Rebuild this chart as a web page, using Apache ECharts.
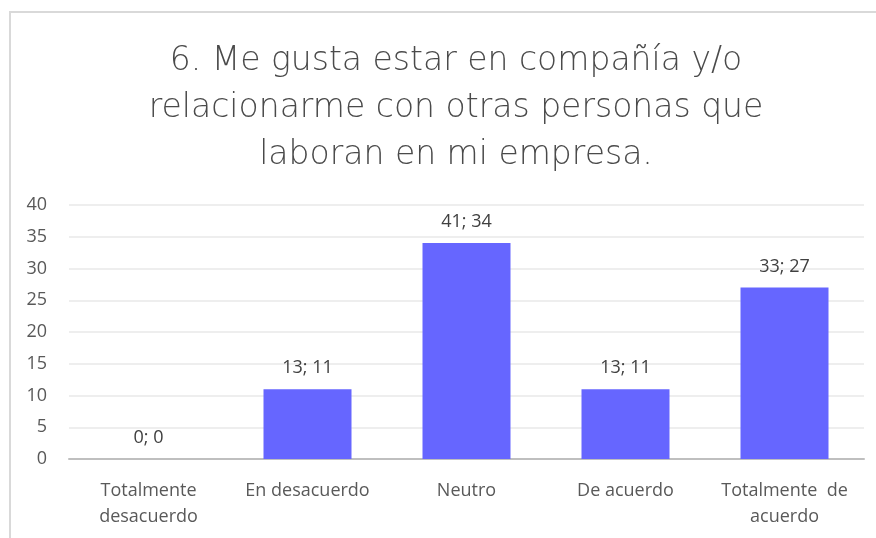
<!DOCTYPE html>
<html>
<head>
<meta charset="utf-8">
<script src="https://cdn.jsdelivr.net/npm/echarts@6/dist/echarts.min.js"></script>
<style>
  html, body { margin: 0; padding: 0; background: #fff; }
  #frame { position: absolute; left: 9px; top: 11px; width: 880px; height: 540px; border: 2px solid #d9d9d9; box-sizing: border-box; }
  #chart { position: absolute; left: 0; top: 0; width: 876px; height: 538px; }
</style>
</head>
<body>
<div id="frame"></div>
<div id="chart"></div>
<script>
var categories = ['Totalmente\ndesacuerdo', 'En desacuerdo', 'Neutro', 'De acuerdo', 'Totalmente  de\nacuerdo'];
var counts = [0, 13, 41, 13, 33];
var percents = [0, 11, 34, 11, 27];
var yTicks = [0, 5, 10, 15, 20, 25, 30, 35, 40];

var myChart = echarts.init(document.getElementById('chart'));
var font = '"Open Sans", "Noto Sans", sans-serif';

var option = {
    backgroundColor: 'transparent',
    title: {
        text: '6. Me gusta estar en compañía y/o\nrelacionarme con otras personas que\nlaboran en mi empresa.',
        left: 451,
        top: 33,
        textAlign: 'center',
        textStyle: {
            fontFamily: '"DejaVu Sans", sans-serif',
            fontWeight: 200,
            fontSize: 33,
            lineHeight: 47,
            color: '#4a4a4a'
        }
    },
    grid: { left: 69, right: 12, top: 205, bottom: 79, containLabel: false },
    xAxis: {
        type: 'category',
        data: categories,
        axisLine: { lineStyle: { color: '#bfbfbf', width: 2 } },
        axisTick: { show: false },
        axisLabel: {
            color: '#595959',
            fontFamily: font,
            fontSize: 18,
            lineHeight: 26,
            margin: 19,
            interval: 0
        }
    },
    yAxis: {
        type: 'value',
        min: yTicks[0],
        max: yTicks[yTicks.length - 1],
        interval: 5,
        axisLine: { show: false },
        axisTick: { show: false },
        splitLine: { lineStyle: { color: '#e9e9e9', width: 1.5 } },
        axisLabel: {
            color: '#595959',
            fontFamily: font,
            fontSize: 18,
            margin: 22
        }
    },
    series: [{
        type: 'bar',
        data: percents,
        barWidth: 88,
        itemStyle: { color: '#6666ff' },
        label: {
            show: true,
            position: 'top',
            distance: 12,
            color: '#404040',
            fontFamily: font,
            fontSize: 18,
            formatter: function (p) {
                return counts[p.dataIndex] + '; ' + percents[p.dataIndex];
            }
        }
    }]
};

myChart.setOption(option);
</script>
</body>
</html>
